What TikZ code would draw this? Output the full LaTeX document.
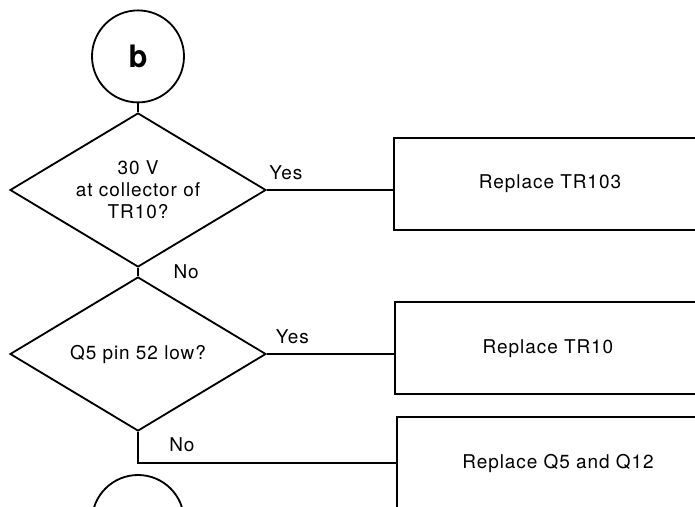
\documentclass[tikz,border=0pt]{standalone}
\usepackage{fontspec}
\setmainfont{TeX Gyre Heros}[LetterSpace=5]
\usetikzlibrary{shapes.geometric}

\begin{document}
\begin{tikzpicture}[
    line width=1.3pt,
    font=\fontsize{13.5}{15.5}\selectfont,
    conn/.style={circle, draw, minimum size=2.3cm, inner sep=0pt},
    decision/.style={diamond, draw, aspect=1.67, minimum width=6.4cm, minimum height=3.85cm, inner sep=0pt, align=center},
    action/.style={rectangle, draw, minimum height=2.3cm}
]
    \useasboundingbox (0,0) rectangle (17.375,-12.675);
    \clip (0,0) rectangle (17.375,-12.675);

    % Entry connector
    \node[conn] (cb) at (3.45,-1.41) {\fontsize{22}{24}\selectfont\bfseries b};

    % Decisions
    \node[decision] (d1) at (3.45,-4.75) {30 V\\at collector of\\TR10?};
    \node[decision] (d2) at (3.45,-8.85) {Q5 pin 52 low?};

    % Actions
    \node[action, minimum width=7.8cm] (r1) at (13.75,-4.59) {Replace TR103};
    \node[action, minimum width=7.65cm] (r2) at (13.7,-8.71) {Replace TR10};
    \node[action, minimum width=8.05cm] (r3) at (13.95,-11.575) {Replace Q5 and Q12};

    % Exit connector
    \node[conn] (cc) at (3.45,-13.025) {};

    % Connections
    \draw (cb) -- (d1);
    \draw (d1.east) -- (d1.east -| r1.west) node[pos=0.15, above=0.12cm] {Yes};
    \draw (d1.south) -- (d2.north) node[midway, right=0.75cm] {No};
    \draw (d2.east) -- (d2.east -| r2.west) node[pos=0.2, above=0.12cm] {Yes};
    \draw (d2.south) |- (r3.west) node[pos=0.585, above=0.15cm] {No};
\end{tikzpicture}
\end{document}
